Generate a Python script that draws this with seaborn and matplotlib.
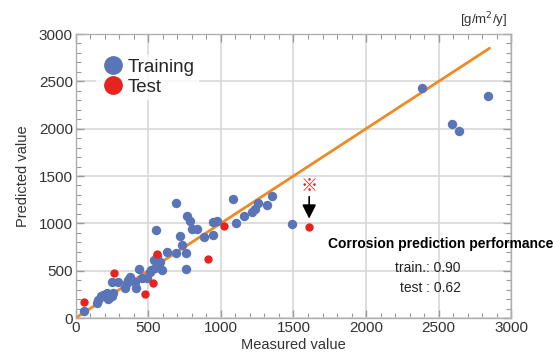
import matplotlib
matplotlib.use("Agg")
import matplotlib.pyplot as plt
import seaborn as sns
import pandas as pd
from matplotlib.lines import Line2D
from matplotlib.ticker import MultipleLocator

# ---- data ----
train_x = [58, 145, 156, 173, 191, 214, 225, 214, 237, 248, 259, 248, 290, 340, 352,
           363, 374, 409, 413, 438, 455, 489, 512, 520, 541, 558, 546, 569, 581, 593,
           553, 627, 689, 691, 718, 730, 758, 758, 769, 787, 799, 833, 884, 944, 944,
           975, 1081, 1102, 1159, 1212, 1235, 1257, 1315, 1354, 1491, 2382, 2588, 2641, 2840]
train_y = [77, 155, 190, 232, 243, 261, 197, 225, 225, 232, 267, 383, 383, 313, 366,
           401, 436, 383, 313, 514, 419, 419, 489, 507, 613, 655, 525, 570, 595, 507,
           930, 700, 1218, 683, 870, 771, 514, 690, 1081, 1025, 940, 940, 852, 1018, 877,
           1028, 1257, 1000, 1081, 1123, 1148, 1218, 1194, 1292, 990, 2426, 2045, 1975, 2344]
test_x = [58, 266, 478, 531, 558, 913, 1023, 1608]
test_y = [172, 472, 250, 366, 672, 623, 975, 964]
fit_x = [0, 2850]
fit_y = [0, 2850]
x_ticks = [0, 500, 1000, 1500, 2000, 2500, 3000]
y_ticks = [0, 500, 1000, 1500, 2000, 2500, 3000]
r2_train = 0.90
r2_test = 0.62

BLUE = "#5a74b8"
RED = "#e5231f"
ORANGE = "#f08a24"

sns.set_theme(style="white")
plt.rcParams["font.family"] = ["Liberation Sans", "Noto Sans CJK JP", "DejaVu Sans"]

fig = plt.figure(figsize=(5.53, 3.58), dpi=100)
ax = fig.add_axes([0.1367, 0.1117, 0.788, 0.7933])

df_tr = pd.DataFrame({"x": train_x, "y": train_y})
df_te = pd.DataFrame({"x": test_x, "y": test_y})
df_fit = pd.DataFrame({"x": fit_x, "y": fit_y})

sns.lineplot(data=df_fit, x="x", y="y", ax=ax, color=ORANGE, lw=2.0, zorder=2)
sns.scatterplot(data=df_tr, x="x", y="y", ax=ax, color=BLUE, s=46, linewidth=0, zorder=3)
sns.scatterplot(data=df_te, x="x", y="y", ax=ax, color=RED, s=36, linewidth=0, zorder=4)

ax.set_xlim(0, 3000)
ax.set_ylim(0, 3000)
ax.set_xticks(x_ticks)
ax.set_yticks(y_ticks)
ax.xaxis.set_minor_locator(MultipleLocator(100))
ax.yaxis.set_minor_locator(MultipleLocator(100))
ax.tick_params(which="both", direction="in", top=True, right=True, bottom=True, left=True,
               color="#9a9a9a", labelsize=11, labelcolor="#333333", pad=2)
ax.tick_params(which="major", length=6, width=1)
ax.tick_params(which="minor", length=3.5, width=0.8)
ax.grid(True, which="major", color="#d8d8d8", lw=1.2)
ax.set_axisbelow(True)
for sp in ax.spines.values():
    sp.set_color("#b0b0b0")
    sp.set_linewidth(1.0)

ax.set_xlabel("Measured value", fontsize=10.5, color="#333333", labelpad=2)
ax.set_ylabel("Predicted value", fontsize=10.5, color="#333333", labelpad=6)

handles = [Line2D([], [], marker="o", ls="", color=BLUE, markersize=12.5, label="Training"),
           Line2D([], [], marker="o", ls="", color=RED, markersize=12.5, label="Test")]
leg = ax.legend(handles=handles, loc="upper left", bbox_to_anchor=(0.025, 0.96),
                frameon=True, fontsize=13.5, handletextpad=0.1, labelspacing=0.15,
                borderpad=0.2, handlelength=1.4)
leg.get_frame().set_facecolor("white")
leg.get_frame().set_edgecolor("white")

ax.annotate("", xy=(1608, 1020), xytext=(1608, 1310),
            arrowprops=dict(arrowstyle="-|>,head_width=0.35,head_length=0.7", color="black", lw=1.2))
ax.text(1608, 1390, "※", color=RED, fontsize=12.5, ha="center", va="center",
        family=["Noto Sans CJK JP", "DejaVu Sans"])

fig.text(0.797, 0.318, "Corrosion prediction performance", fontsize=10, fontweight="bold",
         ha="center", va="center", color="black")
fig.text(0.833, 0.251, f"train.: {r2_train:.2f}", fontsize=10, ha="right", va="center", color="#222222")
fig.text(0.833, 0.196, f"test : {r2_test:.2f}", fontsize=10, ha="right", va="center", color="#222222")
fig.text(0.918, 0.943, "[g/m$^{2}$/y]", fontsize=9.5, ha="right", va="center", color="#333333")

fig.savefig("out.png", dpi=100)
